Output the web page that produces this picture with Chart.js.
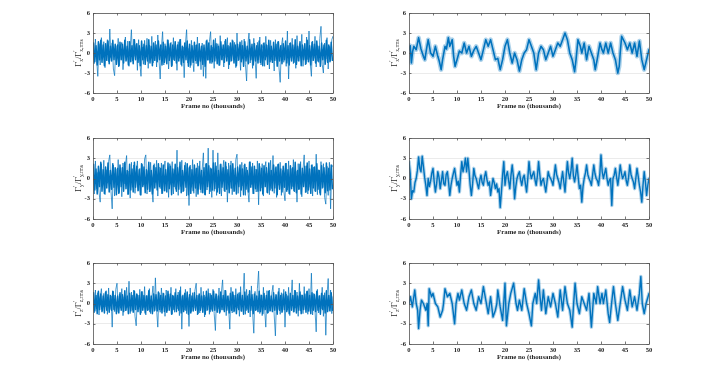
<!DOCTYPE html>
<html>
<head>
<meta charset="utf-8">
<script src="https://cdn.jsdelivr.net/npm/chart.js@4/dist/chart.umd.min.js"></script>
<style>
  html, body { margin:0; padding:0; background:#ffffff; }
  body { width:718px; height:371px; position:relative; overflow:hidden; }
  .cv { position:absolute; }
</style>
</head>
<body>
<canvas class="cv" id="c1" width="300" height="116" style="left:40px;top:0px"></canvas>
<canvas class="cv" id="c2" width="300" height="116" style="left:356px;top:0px"></canvas>
<canvas class="cv" id="c3" width="300" height="117" style="left:40px;top:125px"></canvas>
<canvas class="cv" id="c4" width="300" height="117" style="left:356px;top:125px"></canvas>
<canvas class="cv" id="c5" width="300" height="117" style="left:40px;top:250px"></canvas>
<canvas class="cv" id="c6" width="300" height="117" style="left:356px;top:250px"></canvas>
<script>
// ---------- data ----------
const xTicks = [0, 5, 10, 15, 20, 25, 30, 35, 40, 45, 50];
const yTicks = [-6, -3, 0, 3, 6];
const xTitle = 'Frame no (thousands)';
const frameStepK = 0.25;     // sampling step (thousands of frames) of the uniformly sampled series
const frameOffsetBK = 0.125; // second interleaved sample set starts half a step later

// Left column: Γ'x, Γ'y, Γ'z — samples A at 0,0.25,...; samples B at 0.125,0.375,...
const gammaXLeftA = [
 0.8,-1.6,2.1,-0.9,-3.5,1.4,-1.8,2.3,-0.4,1.7,-2.2,0.6,2.0,-1.3,3.6,-0.7,1.5,-2.4,-3.4,1.1,
 -0.8,2.2,-1.9,0.9,1.6,-2.5,0.3,2.4,-1.1,1.8,-2.0,0.7,3.5,-1.2,2.1,-0.5,1.3,-2.6,2.0,-1.4,
 -3.5,0.9,-1.7,1.9,-0.6,2.2,-2.3,1.2,-0.9,2.5,-1.5,0.4,1.8,-2.1,2.7,-1.0,-3.9,0.8,3.2,-1.8,
 1.4,-0.7,2.0,-2.4,0.6,1.6,-1.9,2.3,-1.2,0.5,-2.6,1.7,-0.8,2.1,-2.0,0.9,-3.7,1.3,3.5,-1.5,
 0.7,-2.2,1.9,-0.6,-2.8,1.2,-1.6,2.4,-1.9,0.3,-2.5,1.5,-3.5,0.8,-3.8,2.0,-1.1,1.7,3.2,-1.6,
 0.9,-2.3,2.2,-0.8,1.4,-1.9,2.6,-1.0,0.5,-2.1,1.8,-0.7,2.3,-2.4,1.0,-1.3,2.0,-0.5,1.6,-2.2,
 3.0,-1.2,0.8,-2.6,1.9,-0.9,2.1,-1.7,-4.2,1.3,3.0,-1.5,0.6,-2.3,2.2,-0.8,-3.8,1.6,-1.0,2.4,
 -1.8,0.7,1.5,-2.0,2.5,-0.6,1.2,-2.4,1.9,-1.1,0.4,-2.7,2.0,-0.9,1.7,-2.2,-4.4,1.0,2.3,-1.4,
 0.8,-2.0,3.3,-3.9,1.5,-0.7,2.2,-1.6,0.9,-2.3,2.6,-1.2,1.4,-0.5,2.8,-2.0,0.6,-1.8,2.4,-1.0,
 3.3,-1.5,-3.5,1.8,-0.8,2.5,-2.1,1.1,-1.4,2.2,4.0,-1.7,-3.0,1.5,-0.9,2.3,-2.4,1.0,-1.2,2.0,
 2.5];
const gammaXLeftB = [
 1.5,-1.3,1.1,-1.8,1.7,-1.0,1.9,-1.4,1.2,-1.9,1.4,-1.1,1.8,-1.6,1.0,-1.2,1.9,-1.0,1.3,-1.7,
 1.2,-2.0,1.6,-1.0,1.3,-1.5,1.9,-1.2,1.0,-1.8,1.7,-1.3,1.1,-1.6,2.0,-1.0,1.4,-1.4,1.1,-1.9,
 1.8,-1.0,1.3,-1.7,1.1,-1.2,2.0,-1.5,1.0,-1.9,1.5,-1.1,1.2,-1.3,1.8,-1.0,1.2,-1.8,1.6,-1.4,
 1.0,-1.6,1.9,-1.1,1.4,-2.0,1.2,-1.0,1.7,-1.5,1.2,-1.2,2.0,-1.7,1.0,-1.4,1.5,-1.0,1.8,-2.0,
 1.3,-1.8,1.1,-1.4,1.6,-1.1,1.2,-1.9,1.4,-1.2,1.0,-1.7,1.2,-2.0,1.8,-1.0,1.5,-1.5,1.1,-1.3,
 1.9,-1.2,1.4,-1.6,1.0,-1.8,1.7,-1.0,1.2,-1.4,2.0,-1.2,1.1,-1.7,1.5,-1.1,1.8,-1.5,1.2,-1.9,
 1.3,-1.0,1.6,-1.3,1.1,-2.0,1.7,-1.2,1.0,-1.6,2.0,-1.0,1.3,-1.8,1.4,-1.2,1.1,-1.5,1.8,-1.4,
 1.2,-1.9,1.5,-1.0,1.2,-1.7,1.9,-1.3,1.0,-1.4,1.6,-1.1,1.3,-2.0,1.7,-1.2,1.1,-1.6,1.4,-1.0,
 1.8,-1.5,1.1,-1.8,1.5,-1.2,1.2,-1.4,2.0,-1.7,1.0,-1.2,1.7,-1.9,1.2,-1.0,1.4,-1.6,1.9,-1.3,
 1.1,-1.8,1.6,-1.1,1.3,-1.5,1.8,-1.2,1.0,-2.0,1.5,-1.0,1.2,-1.7,1.9,-1.4,1.2,-1.3,1.6,-1.1];

const gammaYLeftA = [
 1.8,-2.3,2.6,-1.5,0.9,-2.0,-3.5,2.2,-1.1,2.7,-2.4,1.3,-0.7,2.5,3.5,-1.9,-4.5,2.0,-2.6,1.4,
 -0.9,2.8,-2.1,1.6,-2.7,2.3,-0.8,1.9,3.4,-2.4,1.1,-2.9,2.4,-1.3,2.0,-2.2,0.7,2.6,-1.8,1.5,
 -2.5,2.1,-1.0,2.9,3.5,-2.3,1.2,-2.0,2.4,-1.4,-3.5,2.2,-0.6,2.7,-2.6,1.7,-1.5,2.3,-2.2,1.0,
 2.6,-1.9,1.4,-2.8,2.2,-0.9,2.5,-2.3,1.3,-1.6,4.2,-2.5,1.8,-1.2,2.7,-2.0,0.9,2.4,-2.6,1.6,
 -4.0,2.0,-1.3,2.8,-2.2,1.5,-2.7,2.3,-0.8,2.6,-2.1,1.4,3.8,-2.4,2.2,-1.7,4.5,-2.3,1.6,-2.8,
 4.2,-1.9,2.4,-2.5,3.8,-1.4,2.1,-2.6,1.2,2.7,-2.0,1.8,-3.5,2.3,-1.5,2.6,-2.4,1.3,-1.9,2.8,
 3.6,-2.2,1.5,-2.7,2.4,-1.1,2.0,-2.5,1.7,-1.6,-3.5,2.5,-0.9,2.3,-2.3,1.4,-2.0,2.6,-3.9,1.8,
 -1.4,2.2,-2.6,1.3,2.5,-2.1,0.8,-2.4,2.7,-1.5,3.4,-2.2,1.6,-2.8,2.1,-1.0,2.4,-2.5,1.2,-1.8,
 -3.3,2.3,-1.7,2.6,-2.4,1.5,-1.2,2.8,-2.0,1.1,-3.5,2.2,-1.6,2.5,-2.7,1.4,3.5,-2.1,1.9,-2.3,
 2.6,-1.3,2.0,-2.6,1.7,-1.9,3.6,-2.4,1.3,-2.2,2.5,-1.5,2.2,-2.8,-3.8,1.8,-2.5,2.4,-4.5,1.6,
 2.0];
const gammaYLeftB = [
 2.1,-1.7,1.4,-2.3,1.8,-1.2,2.4,-1.9,1.3,-2.2,1.7,-1.4,2.3,-2.0,1.2,-1.6,2.2,-1.3,1.6,-2.4,
 1.5,-2.2,2.0,-1.2,1.6,-1.9,2.4,-1.5,1.2,-2.3,2.1,-1.7,1.4,-2.0,2.4,-1.3,1.8,-1.8,1.3,-2.4,
 2.2,-1.2,1.7,-2.1,1.3,-1.6,2.4,-1.9,1.2,-2.3,1.9,-1.4,1.6,-1.7,2.2,-1.2,1.5,-2.2,2.0,-1.8,
 1.3,-2.0,2.3,-1.5,1.8,-2.4,1.4,-1.2,2.1,-1.9,1.6,-1.6,2.4,-2.1,1.2,-1.8,1.9,-1.3,2.2,-2.4,
 1.7,-2.2,1.3,-1.8,2.0,-1.4,1.5,-2.3,1.8,-1.6,1.2,-2.1,1.6,-2.4,2.2,-1.2,1.9,-1.9,1.4,-1.7,
 2.3,-1.5,1.8,-2.0,1.2,-2.2,2.1,-1.3,1.6,-1.8,2.4,-1.6,1.3,-2.1,1.9,-1.4,2.2,-1.9,1.5,-2.3,
 1.7,-1.2,2.0,-1.7,1.4,-2.4,2.1,-1.6,1.2,-2.0,2.4,-1.3,1.7,-2.2,1.8,-1.5,1.3,-1.9,2.2,-1.8,
 1.5,-2.3,1.9,-1.2,1.6,-2.1,2.3,-1.7,1.2,-1.8,2.0,-1.4,1.7,-2.4,2.1,-1.6,1.4,-2.0,1.8,-1.3,
 2.2,-1.9,1.3,-2.2,1.9,-1.5,1.6,-1.8,2.4,-2.1,1.2,-1.6,2.1,-2.3,1.5,-1.2,1.8,-2.0,2.3,-1.7,
 1.4,-2.2,2.0,-1.4,1.7,-1.9,2.2,-1.6,1.2,-2.4,1.9,-1.3,1.6,-2.1,2.3,-1.8,1.5,-1.7,2.0,-1.5];

const gammaZLeftA = [
 1.2,-1.4,2.0,-0.8,1.6,-1.7,0.9,2.2,-1.1,1.5,-0.5,1.9,-1.6,2.3,-0.9,1.1,-3.5,1.8,-1.2,2.1,
 3.0,-1.3,1.4,-0.7,2.2,-1.8,1.0,-1.1,2.4,-0.6,3.3,-1.5,1.7,-1.0,2.0,-1.9,-3.3,1.3,-0.8,2.1,
 -1.4,1.8,-0.6,2.5,-1.7,1.2,-1.0,2.2,-1.5,0.8,2.6,-1.2,3.8,-0.9,-3.5,1.6,-1.3,2.3,-0.7,1.5,
 -1.9,2.0,-1.1,1.4,-0.5,2.4,-1.6,1.1,-1.3,2.2,-0.8,1.7,-1.8,2.5,-3.8,1.3,-1.0,2.1,-1.5,0.9,
 -3.4,2.3,-1.2,1.6,-0.7,2.0,3.0,-1.7,1.2,-1.4,2.4,-0.6,1.8,-2.0,1.0,-1.1,2.2,-1.6,1.5,-0.9,
 2.1,-1.5,-4.0,1.4,-0.8,2.3,-1.3,1.7,3.5,-1.0,2.0,-1.8,1.1,-0.6,-3.8,2.4,-1.4,1.3,-1.1,2.2,
 -0.7,1.6,-1.9,2.5,-1.2,1.0,4.5,-1.6,2.1,-0.9,1.4,-2.0,2.6,-1.3,-4.4,1.8,-1.0,2.2,4.8,-1.5,
 1.3,-1.8,2.4,-0.8,-3.5,1.9,-1.4,2.0,-1.1,1.5,2.7,-1.7,-4.8,1.2,-0.9,2.3,-1.6,1.6,-1.2,2.1,
 -3.5,1.4,-1.0,2.4,-1.8,1.0,3.5,-1.3,2.0,-0.7,1.7,-1.9,3.0,-1.1,1.3,-1.5,2.5,-0.9,1.8,-1.6,
 2.2,-1.2,4.5,-1.7,1.5,-1.0,-4.2,2.1,-1.4,1.2,-0.8,2.4,-1.9,1.6,-4.7,1.3,3.7,-1.1,2.0,-1.5,
 1.0];
const gammaZLeftB = [
 1.6,-1.1,1.2,-1.5,1.8,-0.9,1.4,-1.2,1.1,-1.4,1.7,-1.0,1.3,-1.3,1.2,-1.0,1.8,-0.9,1.2,-1.5,
 1.1,-1.4,1.6,-1.0,1.3,-1.2,1.9,-1.0,1.1,-1.5,1.5,-1.1,1.2,-1.3,1.8,-0.9,1.4,-1.2,1.2,-1.6,
 1.7,-1.0,1.2,-1.4,1.1,-1.0,1.9,-1.2,1.1,-1.5,1.4,-1.0,1.3,-1.1,1.7,-0.9,1.2,-1.4,1.5,-1.2,
 1.1,-1.3,1.8,-1.0,1.4,-1.6,1.2,-0.9,1.6,-1.2,1.2,-1.0,1.9,-1.4,1.1,-1.2,1.5,-1.0,1.7,-1.6,
 1.3,-1.4,1.1,-1.1,1.6,-1.0,1.2,-1.5,1.4,-1.0,1.1,-1.3,1.2,-1.6,1.8,-0.9,1.5,-1.2,1.2,-1.1,
 1.8,-1.0,1.4,-1.3,1.1,-1.4,1.7,-0.9,1.2,-1.2,1.9,-1.0,1.1,-1.4,1.5,-1.0,1.7,-1.2,1.2,-1.5,
 1.3,-0.9,1.6,-1.1,1.2,-1.6,1.7,-1.0,1.1,-1.3,1.9,-1.0,1.3,-1.5,1.4,-1.0,1.1,-1.2,1.8,-1.2,
 1.2,-1.5,1.5,-0.9,1.2,-1.4,1.8,-1.1,1.1,-1.2,1.6,-1.0,1.3,-1.6,1.7,-1.0,1.2,-1.3,1.4,-0.9,
 1.7,-1.2,1.1,-1.5,1.5,-1.0,1.2,-1.2,1.9,-1.4,1.1,-1.0,1.7,-1.5,1.2,-0.9,1.4,-1.3,1.8,-1.1,
 1.2,-1.5,1.6,-1.0,1.3,-1.2,1.8,-1.0,1.1,-1.6,1.5,-0.9,1.2,-1.4,1.9,-1.2,1.2,-1.1,1.6,-1.0];

// Right column
const gammaXRightFrames = [0,0.25,0.5,0.75,1,1.5,2,2.5,3,3.3,3.7,4,4.5,5,5.5,6,6.3,6.7,7,7.5,7.8,8.2,8.5,9,9.3,9.6,10,10.5,11,11.5,12,12.5,13,13.5,14,14.5,15,15.5,16,16.5,17,17.5,18,18.5,19,19.5,20,20.5,21,21.5,22,22.5,23,23.5,24,24.5,25,25.5,26,26.5,27,27.5,28,28.5,29,29.5,30,30.5,31,31.5,32,32.5,33,33.5,34,34.5,34.8,35.2,35.7,36,36.5,37,37.5,38,38.5,38.8,39.2,39.8,40.2,40.5,41,41.5,42,42.5,43,43.5,43.8,44,44.3,45,45.5,46,46.5,47,47.5,48,48.5,49,49.5,50];
const gammaXRightVals = [0.5,1.1,-1.5,0.2,1.0,0.5,2.3,0.6,-0.5,-1.0,0.8,2.0,0.0,-0.5,1.0,-0.5,-1.2,-2.5,-1.0,1.0,0.6,2.3,1.0,2.0,-0.5,-2.0,-1.0,0.3,0.0,1.5,0.0,1.0,-0.5,0.4,1.0,0.0,-1.0,0.5,2.0,1.0,2.0,0.5,-1.0,-0.8,-2.5,-1.0,1.0,2.0,0.0,-1.5,0.0,-1.0,-2.7,-1.0,0.0,0.5,2.0,1.0,0.0,-2.5,0.0,1.0,0.5,-1.0,0.0,1.0,-0.5,0.5,1.5,1.0,2.0,3.0,2.0,0.0,-1.0,-2.8,-1.0,2.0,1.0,0.0,1.5,-1.0,1.0,0.0,-1.0,-2.5,-1.0,1.5,0.5,0.0,1.5,0.0,1.5,0.0,-1.0,-3.0,-2.0,0.0,2.5,1.5,0.5,1.5,0.0,1.5,-0.5,1.8,-1.0,-2.5,-1.0,0.5];

// Γ'y right: uniform samples every 0.25k frames
const gammaYRight = [
 2.5,0.8,-3.0,-1.8,-2.0,-0.6,0.0,1.2,3.2,1.5,1.0,3.3,1.8,0.2,-1.0,-2.5,0.0,-1.2,-0.4,0.8,
 1.5,-0.5,-2.0,-0.8,1.0,0.2,-1.5,-0.3,1.0,-0.8,-1.0,0.6,1.0,-0.6,-2.5,-1.0,0.0,0.8,1.5,0.2,
 -1.0,-0.4,-2.0,0.5,2.5,1.0,1.8,3.0,1.0,3.0,1.2,-1.0,-2.5,-0.8,1.5,0.4,0.0,-0.8,-1.5,-0.2,
 0.5,-0.6,-1.0,0.3,1.0,-0.2,-1.0,-0.5,-2.5,-1.2,0.0,-0.6,-1.5,-0.8,-2.0,-1.5,-4.3,-2.0,0.5,2.5,
 -1.0,0.4,1.0,-0.3,-1.5,0.5,2.0,0.3,-3.0,-1.2,0.0,0.6,1.0,-0.2,-1.0,0.1,0.5,-0.8,-2.0,0.0,
 2.5,0.8,0.0,0.6,1.0,-0.2,-1.0,0.4,2.5,0.6,-1.0,-0.3,0.0,-1.0,-2.0,-0.5,1.0,0.3,0.0,-0.4,
 -1.0,0.5,2.0,0.6,0.0,-0.6,-1.5,-0.2,1.0,-0.5,-2.0,0.4,2.5,0.8,0.0,1.2,3.0,0.4,-0.5,0.6,
 2.0,0.2,-1.5,-1.0,-3.5,-1.2,0.0,0.8,2.0,0.6,0.0,-0.4,-1.0,0.5,2.0,0.7,0.0,-0.3,-1.0,0.6,
 3.5,1.0,0.0,0.8,1.5,0.0,-1.0,-0.2,0.0,-4.0,0.0,0.5,1.5,0.2,-1.0,0.3,2.0,0.8,0.0,0.4,
 1.0,-0.3,-1.0,0.2,2.0,0.6,0.0,-0.5,-1.5,0.0,1.5,0.3,-1.0,-2.0,-3.5,-1.0,1.0,-0.5,-2.5,-1.0,
 0.0];

const gammaZRightFrames = [0,0.3,0.7,1.2,1.5,1.8,2,2.3,2.6,3,3.5,3.8,4,4.2,4.7,5,5.5,6,6.5,7,7.2,7.5,8,8.5,9,9.5,9.8,10.2,10.5,11,11.5,12,12.5,13,13.5,14,14.5,15,15.5,16,16.5,17,17.5,18,18.3,18.5,19,19.5,20,20.3,20.8,21.2,21.8,22.3,22.6,23,23.5,24,24.5,25,25.5,25.8,26.3,26.6,27,27.3,27.6,28,28.5,29,29.5,30,30.5,31,31.5,32,32.5,33,33.5,34,34.3,34.6,35,35.5,36,36.5,37,37.5,38,38.5,39,39.3,39.8,40.2,40.5,41,41.5,41.8,42.2,42.6,43,43.5,44,44.5,45,45.5,46,46.5,47,47.5,48,48.3,48.6,49,49.4,50];
const gammaZRightVals = [0.0,1.0,-0.5,2.0,0.0,-1.0,-3.7,-1.0,0.5,0.0,-1.0,0.0,-3.3,2.2,1.0,1.5,0.0,-0.5,-2.0,-1.0,0.0,2.2,1.0,1.5,0.0,-3.0,0.0,1.5,0.5,2.0,0.0,-1.0,1.0,2.0,0.0,-1.0,1.0,0.0,2.5,0.5,-1.5,1.0,-2.0,-1.0,0.0,2.0,-0.5,-2.5,3.0,-3.3,0.0,1.5,3.0,0.0,-1.0,0.5,-1.0,2.2,0.0,-1.5,-3.3,0.0,1.5,0.0,3.5,1.0,-1.0,2.0,-1.5,1.0,-0.5,1.5,0.0,-2.0,2.0,-1.0,2.5,0.0,-1.0,-3.5,0.0,3.0,0.0,-1.5,1.0,0.0,-1.0,1.5,-3.5,1.5,0.0,2.5,0.0,1.5,0.0,2.0,-1.5,-2.8,0.0,2.5,0.0,-2.5,0.0,2.5,0.5,-1.0,2.0,-0.5,1.0,-1.0,1.5,4.0,0.0,-1.5,0.0,1.5];

// ---------- drawing ----------
const LINE_COLOR = '#0072BD';
const HALO_COLOR = 'rgba(0,114,189,0.32)';
const AXIS_COLOR = '#555555';
const TEXT_COLOR = '#262626';
const tickFont = { family: 'Liberation Serif', size: 6.6, weight: 'bold' };

function uniformPoints(vals, offset) { return vals.map((v, i) => ({ x: offset + i * frameStepK, y: v })); }
function pairedPoints(fr, vals) { return fr.map((f, i) => ({ x: f, y: vals[i] })); }

const boxPlugin = {
  id: 'box',
  afterDraw(chart, args, opts) {
    const ctx = chart.ctx, a = chart.chartArea;
    const xs = chart.scales.x, ys = chart.scales.y;
    ctx.save();
    ctx.strokeStyle = AXIS_COLOR;
    ctx.lineWidth = 0.8;
    ctx.strokeRect(Math.round(a.left) + 0.5, Math.round(a.top) + 0.5, Math.round(a.right - a.left), Math.round(a.bottom - a.top));
    const tl = 2.5;
    ctx.beginPath();
    xTicks.forEach(t => {
      const px = Math.round(xs.getPixelForValue(t)) + 0.5;
      ctx.moveTo(px, a.bottom); ctx.lineTo(px, a.bottom - tl);
      ctx.moveTo(px, a.top); ctx.lineTo(px, a.top + tl);
    });
    yTicks.forEach(t => {
      const py = Math.round(ys.getPixelForValue(t)) + 0.5;
      ctx.moveTo(a.left, py); ctx.lineTo(a.left + tl, py);
      ctx.moveTo(a.right, py); ctx.lineTo(a.right - tl, py);
    });
    ctx.stroke();

    const comp = opts.comp;
    const big = 'normal 8.5px "Liberation Serif"';
    const small = 'normal 5.5px "Liberation Serif"';
    const parts = [
      { t: 'Γ', f: big, dy: 0 },
      { t: '\u2032', f: small, dy: -3.2 },
      { t: comp, f: small, dy: 2.2, back: true },
      { t: '/', f: big, dy: 0 },
      { t: 'Γ', f: big, dy: 0 },
      { t: '\u2032', f: small, dy: -3.2 },
      { t: comp + ',rms', f: small, dy: 2.2, back: true }
    ];
    let w = 0; const pos = [];
    let lastPrimeStart = 0, lastPrimeW = 0;
    parts.forEach(p => {
      ctx.font = p.f;
      const pw = ctx.measureText(p.t).width;
      if (p.back) {
        pos.push(lastPrimeStart);
        w = Math.max(lastPrimeStart + pw, lastPrimeStart + lastPrimeW);
      } else {
        pos.push(w);
        if (p.t === '\u2032') { lastPrimeStart = w; lastPrimeW = pw; }
        w += pw;
      }
    });
    const cy = (a.top + a.bottom) / 2;
    const cx = a.left - 12.5;
    ctx.translate(cx, cy);
    ctx.rotate(-Math.PI / 2);
    ctx.fillStyle = TEXT_COLOR;
    ctx.textBaseline = 'alphabetic';
    ctx.textAlign = 'left';
    parts.forEach((p, i) => {
      ctx.font = p.f;
      ctx.fillText(p.t, pos[i] - w / 2, p.dy);
    });
    ctx.restore();
  }
};

function ds(points, color, width) {
  return { data: points, borderColor: color, borderWidth: width, pointRadius: 0, tension: 0, fill: false, borderJoinStyle: 'round', borderCapStyle: 'round' };
}

function makeChart(id, datasets, comp) {
  return new Chart(document.getElementById(id), {
    type: 'line',
    data: { datasets: datasets },
    plugins: [boxPlugin],
    options: {
      responsive: false,
      animation: false,
      events: [],
      parsing: false,
      layout: { padding: { top: 13, right: 7, left: 0, bottom: 0 } },
      plugins: { legend: { display: false }, tooltip: { enabled: false }, box: { comp: comp } },
      scales: {
        x: {
          type: 'linear', min: 0, max: 50,
          afterBuildTicks: s => { s.ticks = xTicks.map(v => ({ value: v })); },
          grid: { display: false, drawTicks: false },
          border: { display: false },
          ticks: { padding: 2.5, font: tickFont, color: TEXT_COLOR, maxRotation: 0, autoSkip: false },
          title: { display: true, text: xTitle, font: { family: 'Liberation Serif', size: 6.8, weight: 'bold' }, color: TEXT_COLOR, padding: { top: 0, bottom: 5.2 } },
          afterFit: s => { s.height = 23; }
        },
        y: {
          type: 'linear', min: -6, max: 6,
          afterBuildTicks: s => { s.ticks = yTicks.map(v => ({ value: v })); },
          grid: { color: '#e6e6e6', lineWidth: 0.8, drawTicks: false },
          border: { display: false },
          ticks: { padding: 3, font: tickFont, color: TEXT_COLOR },
          afterFit: s => { s.width = 53; }
        }
      }
    }
  });
}

makeChart('c1', [ds(uniformPoints(gammaXLeftA, 0), LINE_COLOR, 0.7), ds(uniformPoints(gammaXLeftB, frameOffsetBK), LINE_COLOR, 1.5)], 'x');
makeChart('c3', [ds(uniformPoints(gammaYLeftA, 0), LINE_COLOR, 0.7), ds(uniformPoints(gammaYLeftB, frameOffsetBK), LINE_COLOR, 1.5)], 'y');
makeChart('c5', [ds(uniformPoints(gammaZLeftA, 0), LINE_COLOR, 0.7), ds(uniformPoints(gammaZLeftB, frameOffsetBK), LINE_COLOR, 1.5)], 'z');

const gxR = pairedPoints(gammaXRightFrames, gammaXRightVals);
makeChart('c2', [ds(gxR, HALO_COLOR, 4.5), ds(gxR, LINE_COLOR, 1.6)], 'x');
const gyR = uniformPoints(gammaYRight, 0);
makeChart('c4', [ds(gyR, HALO_COLOR, 3.5), ds(gyR, LINE_COLOR, 1.4)], 'y');
const gzR = pairedPoints(gammaZRightFrames, gammaZRightVals);
makeChart('c6', [ds(gzR, HALO_COLOR, 3.5), ds(gzR, LINE_COLOR, 1.4)], 'z');
</script>
</body>
</html>
